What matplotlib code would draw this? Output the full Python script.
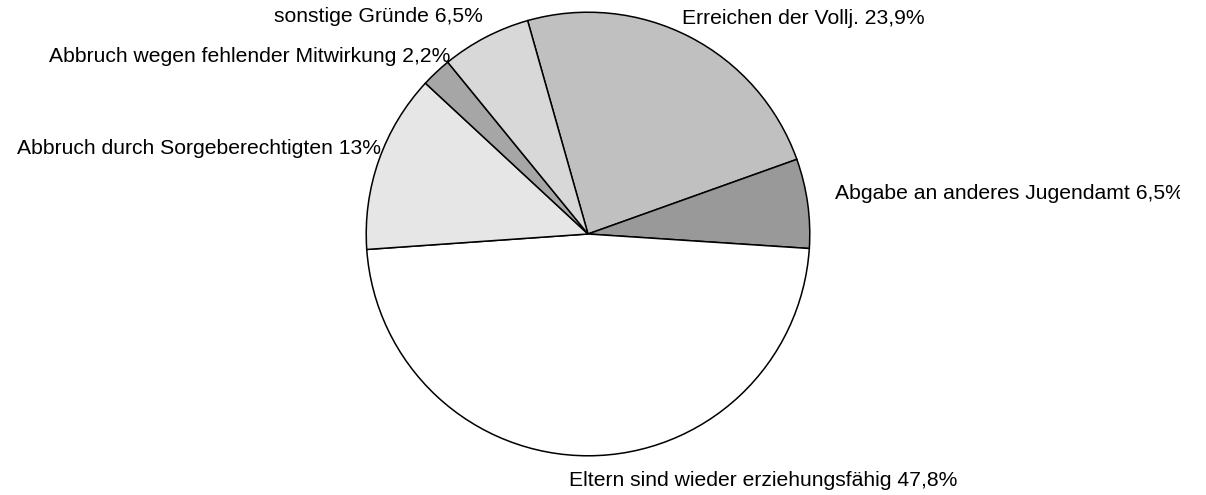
import matplotlib
matplotlib.use("Agg")
import matplotlib.pyplot as plt
from matplotlib.transforms import Bbox

plt.rcParams["font.family"] = ["Liberation Sans", "DejaVu Sans"]

labels = ["Erreichen der Vollj.", "Abgabe an anderes Jugendamt", "Eltern sind wieder erziehungsfähig",
          "Abbruch durch Sorgeberechtigten", "Abbruch wegen fehlender Mitwirkung", "sonstige Gründe"]
values = [23.9, 6.5, 47.8, 13.0, 2.2, 6.5]
value_text = ["23,9%", "6,5%", "47,8%", "13%", "2,2%", "6,5%"]
colors = ["#c0c0c0", "#999999", "#ffffff", "#e6e6e6", "#a6a6a6", "#d8d8d8"]

W, H = 1206, 495
fig = plt.figure(figsize=(W / 100, H / 100), dpi=100)
cx, cy, r = 588, 234, 224
ax = fig.add_axes([(cx - r) / W, (H - cy - r) / H, 2 * r / W, 2 * r / H])
ax.pie(values, colors=colors, startangle=105.8, counterclock=False, radius=1,
       wedgeprops=dict(edgecolor="black", linewidth=1.1))
ax.set_xlim(-1.01, 1.01)
ax.set_ylim(-1.01, 1.01)
ax.axis("off")

# label anchors in pixels: (x, y, ha)
anchors = [(682, 18, "left"), (835, 193, "left"), (569, 481, "left"),
           (381, 149, "right"), (450, 56, "right"), (483, 16, "right")]
clip = Bbox.from_extents(0, 0, 1180, H)
for lab, vt, (x, y, ha) in zip(labels, value_text, anchors):
    t = fig.text(x / W, 1 - y / H, f"{lab} {vt}", ha=ha, va="center", fontsize=15.2)
    t.set_clip_box(clip)
    t.set_clip_on(True)

fig.savefig("out.png", dpi=100)
